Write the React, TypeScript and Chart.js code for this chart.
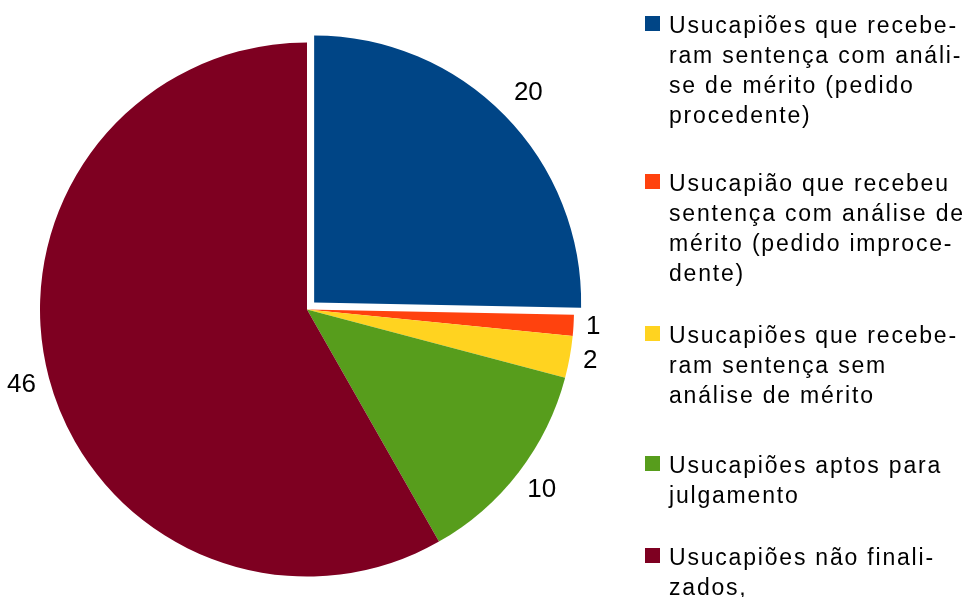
import React, { useEffect, useRef } from "react";
import { Chart, registerables } from "chart.js";

Chart.register(...registerables);

// ---- data ----
const categories = [
  "Usucapiões que receberam sentença com análise de mérito (pedido procedente)",
  "Usucapião que recebeu sentença com análise de mérito (pedido improcedente)",
  "Usucapiões que receberam sentença sem análise de mérito",
  "Usucapiões aptos para julgamento",
  "Usucapiões não finalizados,",
];
const legendLines = [
  ["Usucapiões que recebe-", "ram sentença com análi-", "se de mérito (pedido", "procedente)"],
  ["Usucapião que recebeu", "sentença com análise de", "mérito (pedido improce-", "dente)"],
  ["Usucapiões que recebe-", "ram sentença sem", "análise de mérito"],
  ["Usucapiões aptos para", "julgamento"],
  ["Usucapiões não finali-", "zados,"],
];
const values = [20, 1, 2, 10, 46];
const colors = ["#004586", "#ff420e", "#ffd320", "#579d1c", "#7e0021"];
const explodeOffsets = [40, 0, 0, 0, 0];

// ---- layout constants ----
const W = 969;
const H = 597;
const LEGEND_BASELINES = [33, 191, 343, 473, 565];
const LEGEND_LINE_H = 30;
const LEGEND_SQ_X = 645;
const LEGEND_TEXT_X = 669;
const FONT = '"Liberation Sans", Arial, sans-serif';

const customDraw = {
  id: "customDraw",
  afterDraw(chart: any) {
    const ctx: CanvasRenderingContext2D = chart.ctx;
    const meta = chart.getDatasetMeta(0);
    ctx.save();
    // value labels
    ctx.font = `26px ${FONT}`;
    ctx.fillStyle = "#000";
    ctx.textAlign = "center";
    ctx.textBaseline = "middle";
    meta.data.forEach((arc: any, i: number) => {
      const { x, y, startAngle, endAngle, outerRadius } = arc.getProps(
        ["x", "y", "startAngle", "endAngle", "outerRadius"],
        true
      );
      const mid = (startAngle + endAngle) / 2;
      const cx = Math.cos(mid);
      const sy = Math.sin(mid);
      const text = String(values[i]);
      const halfW = ctx.measureText(text).width / 2;
      const halfH = 9.5;
      const shift = ((explodeOffsets[i] || 0) / 4) * 1.4;
      const d = outerRadius + shift + 12 + halfW * Math.abs(cx) + halfH * Math.abs(sy);
      ctx.fillText(text, x + cx * d, y + sy * d);
    });

    // legend
    ctx.font = `23px ${FONT}`;
    (ctx as any).letterSpacing = "1.8px";
    ctx.textAlign = "left";
    ctx.textBaseline = "alphabetic";
    legendLines.forEach((lines, i) => {
      const base = LEGEND_BASELINES[i];
      ctx.fillStyle = colors[i];
      ctx.fillRect(LEGEND_SQ_X, base - 17, 15, 15);
      ctx.fillStyle = "#000";
      lines.forEach((line, j) => {
        ctx.fillText(line, LEGEND_TEXT_X, base + j * LEGEND_LINE_H);
      });
    });
    ctx.restore();
  },
};

export default function App() {
  const ref = useRef<HTMLCanvasElement | null>(null);
  useEffect(() => {
    if (!ref.current) return;
    const chart = new Chart(ref.current, {
      type: "pie",
      data: {
        labels: categories,
        datasets: [
          {
            data: values,
            backgroundColor: colors,
            borderWidth: 0,
            offset: explodeOffsets,
            radius: 267,
          } as any,
        ],
      },
      options: {
        responsive: false,
        animation: false,
        events: [],
        layout: { padding: { left: 40, right: 395, top: 40, bottom: 18 } },
        plugins: {
          legend: { display: false },
          tooltip: { enabled: false },
          title: { display: false },
        },
      },
      plugins: [customDraw],
    });
    return () => chart.destroy();
  }, []);
  return (
    <div style={{ position: "fixed", left: 0, top: 0, width: W, height: H, background: "#fff" }}>
      <canvas ref={ref} width={W} height={H} style={{ width: W, height: H, display: "block" }} />
    </div>
  );
}
